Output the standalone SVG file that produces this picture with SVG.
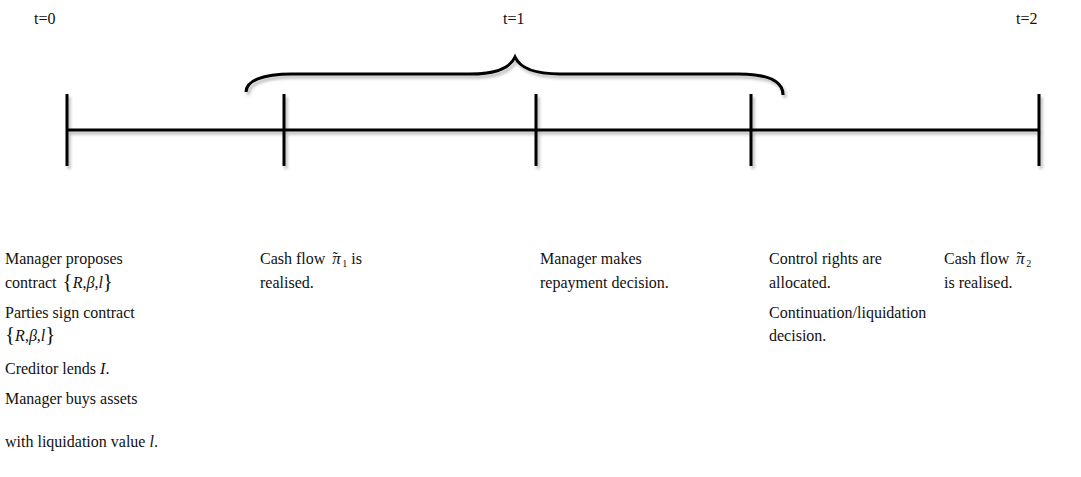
<svg xmlns="http://www.w3.org/2000/svg" width="1081" height="477" viewBox="0 0 1081 477">
<style>
text{font-family:"Liberation Serif","Times New Roman",serif;font-size:16px;fill:#111}
.it{font-style:italic}
.br{font-size:21px}
.ln{stroke:#000;stroke-width:3;fill:none;stroke-linecap:butt}
</style>
<defs>
<filter id="sh" x="-5%" y="-30%" width="110%" height="160%">
<feDropShadow dx="2" dy="3" stdDeviation="1.5" flood-color="#000" flood-opacity="0.28"/>
</filter>
</defs>
<rect width="1081" height="477" fill="#fff"/>
<g id="connectors" filter="url(#sh)">
<line class="ln" x1="67" y1="130" x2="1039" y2="130"/>
<line class="ln" x1="67" y1="94" x2="67" y2="166"/>
<line class="ln" x1="284" y1="94" x2="284" y2="166"/>
<line class="ln" x1="536" y1="94" x2="536" y2="166"/>
<line class="ln" x1="751" y1="94" x2="751" y2="166"/>
<line class="ln" x1="1039" y1="94" x2="1039" y2="166"/>
<path class="ln" stroke-width="2.5" d="M246,92 C246,81 262,74 292,74 L470,74 C496,74 510,68 515,57 C520,68 534,74 560,74 L738,74 C768,74 783,81 783,95"/>
</g>
<g id="t0"><text x="34" y="24">t=0</text></g>
<g id="t1"><text x="503" y="24">t=1</text></g>
<g id="t2"><text x="1016" y="24">t=2</text></g>
<g id="ev0">
<text x="5" y="264">Manager proposes</text>
<text x="5" y="288">contract <tspan class="br" dx="2">{</tspan><tspan class="it">R</tspan>,<tspan class="it">β</tspan>,<tspan class="it">l</tspan><tspan class="br">}</tspan></text>
<text x="5" y="318">Parties sign contract</text>
<text x="5" y="341"><tspan class="br">{</tspan><tspan class="it">R</tspan>,<tspan class="it">β</tspan>,<tspan class="it">l</tspan><tspan class="br">}</tspan></text>
<text x="5" y="374">Creditor lends <tspan class="it">I</tspan>.</text>
<text x="5" y="404">Manager buys assets</text>
<text x="5" y="447">with liquidation value <tspan class="it">l</tspan>.</text>
</g>
<g id="ev1">
<text x="260" y="264">Cash flow <tspan class="it" dx="3" font-size="17">π</tspan><tspan dx="-8" dy="-1">˜</tspan><tspan font-size="10" dy="4" dx="4">1</tspan><tspan dy="-3" dx="4">is</tspan></text>
<text x="260" y="288">realised.</text>
</g>
<g id="ev2">
<text x="540" y="264">Manager makes</text>
<text x="540" y="288">repayment decision.</text>
</g>
<g id="ev3">
<text x="769" y="264">Control rights are</text>
<text x="769" y="288">allocated.</text>
<text x="769" y="318">Continuation/liquidation</text>
<text x="769" y="341">decision.</text>
</g>
<g id="ev4">
<text x="944" y="264">Cash flow <tspan class="it" dx="3" font-size="17">π</tspan><tspan dx="-8" dy="-1">˜</tspan><tspan font-size="10" dy="4" dx="4">2</tspan></text>
<text x="944" y="288">is realised.</text>
</g>
</svg>
